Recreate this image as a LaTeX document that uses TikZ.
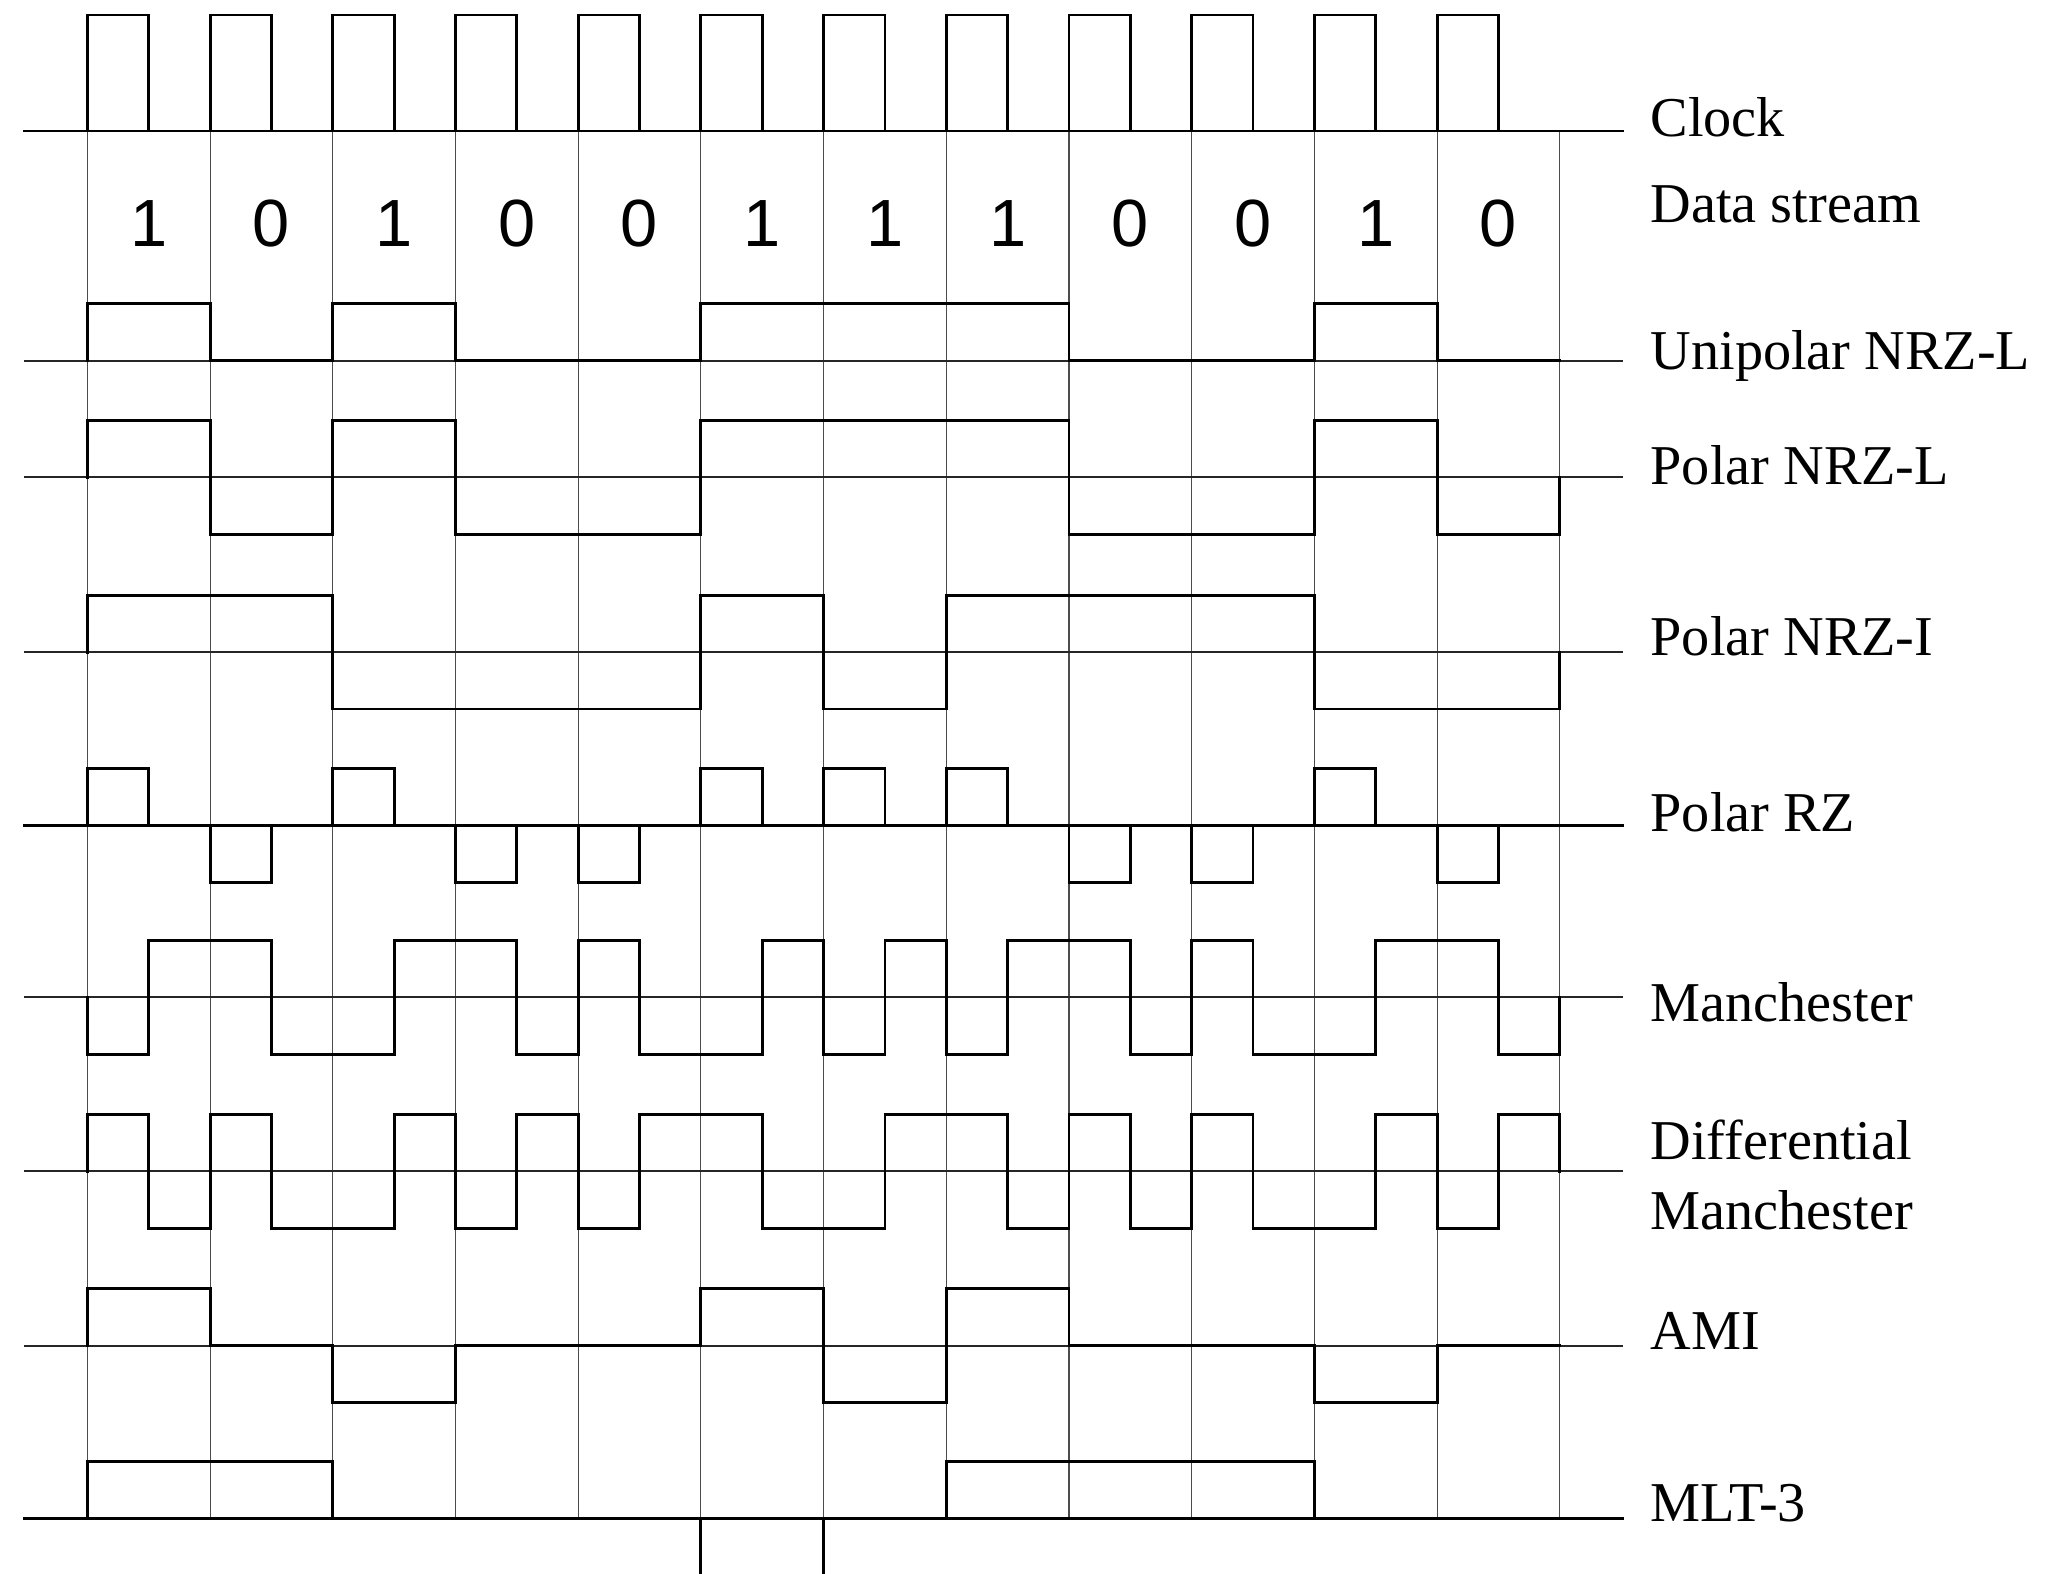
\documentclass[tikz,border=0pt]{standalone}
\usepackage{fontspec}
\setmainfont{Liberation Serif}
\newfontfamily\bitfont{Liberation Sans}
\usetikzlibrary{positioning}

\tikzset{
  gridline/.style={draw=black!70, line width=0.3pt},
  axisline/.style={draw=black!85, line width=0.55pt},
  wave/.style={draw=black, line width=0.8pt, line join=miter, line cap=rect},
  siglabel/.style={anchor=base west, inner sep=0pt, font=\fontsize{16}{19}\selectfont},
  bitnum/.style={anchor=base, inner sep=0pt, font=\bitfont\fontsize{19}{23}\selectfont}
}

% one line code: #1 = zero line, #2 = level of each half bit
\newcommand{\sigwave}[2]{%
  \foreach \v [count=\i from 0, remember=\v as \p (initially 0)] in {#2}{
    \draw[wave] (\i/2,#1-57*\p) -- (\i/2,#1-57*\v) -- (\i/2+0.5,#1-57*\v);
    \xdef\lastlev{\v}
  }
  \draw[wave] (12,#1-57*\lastlev) -- (12,#1);}

\begin{document}
\begin{tikzpicture}[x=1.227cm, y=-0.01cm]
  \useasboundingbox (-0.7123,0) rectangle (15.9544,1574);

  % bit cells
  \foreach \i in {0,...,12}
    \draw[gridline] (\i,131) -- (\i,1519);

  % zero lines
  \foreach \b in {361,477.5,652.5,998,1172,1346.5}
    \draw[axisline] (-0.517,\b) -- (12.515,\b);
  \foreach \b in {131,826,1519}
    \draw[wave] (-0.517,\b) -- (12.515,\b);

  % clock
  \foreach \i in {0,...,11}
    \draw[wave] (\i,131) -- (\i,15) -- (\i+0.5,15) -- (\i+0.5,131);

  % data bits
  \foreach \d [count=\i from 0] in {1,0,1,0,0,1,1,1,0,0,1,0}
    \node[bitnum] (bit\i) at (\i+0.5,246.5) {\d};

  % unipolar NRZ-L
  \sigwave{361}{1,1,0,0,1,1,0,0,0,0,1,1,1,1,1,1,0,0,0,0,1,1,0,0}
  % polar NRZ-L
  \sigwave{477.5}{1,1,-1,-1,1,1,-1,-1,-1,-1,1,1,1,1,1,1,-1,-1,-1,-1,1,1,-1,-1}
  % polar NRZ-I
  \sigwave{652.5}{1,1,1,1,-1,-1,-1,-1,-1,-1,1,1,-1,-1,1,1,1,1,1,1,-1,-1,-1,-1}
  % polar RZ
  \sigwave{826}{1,0,-1,0,1,0,-1,0,-1,0,1,0,1,0,1,0,-1,0,-1,0,1,0,-1,0}
  % manchester
  \sigwave{998}{-1,1,1,-1,-1,1,1,-1,1,-1,-1,1,-1,1,-1,1,1,-1,1,-1,-1,1,1,-1}
  % differential manchester
  \sigwave{1172}{1,-1,1,-1,-1,1,-1,1,-1,1,1,-1,-1,1,1,-1,1,-1,1,-1,-1,1,-1,1}
  % AMI
  \sigwave{1346.5}{1,1,0,0,-1,-1,0,0,0,0,1,1,-1,-1,1,1,0,0,0,0,-1,-1,0,0}
  % MLT-3
  \sigwave{1519}{1,1,1,1,0,0,0,0,0,0,-1,-1,0,0,1,1,1,1,1,1,0,0,0,0}

  % names
  \node[siglabel] (clk)   at (12.735,137)  {Clock};
  \node[siglabel] (data)  at (12.735,223)  {Data stream};
  \node[siglabel] (uni)   at (12.735,370)  {Unipolar NRZ-L};
  \node[siglabel] (nrzl)  at (12.735,485)  {Polar NRZ-L};
  \node[siglabel] (nrzi)  at (12.735,656)  {Polar NRZ-I};
  \node[siglabel] (rz)    at (12.735,832)  {Polar RZ};
  \node[siglabel] (man)   at (12.735,1022) {Manchester};
  \node[siglabel] (dman)  at (12.735,1160) {Differential};
  \node[siglabel] (dmanb) at (12.735,1230) {Manchester};
  \node[siglabel] (ami)   at (12.735,1350) {AMI};
  \node[siglabel] (mlt)   at (12.735,1522) {MLT-3};
\end{tikzpicture}
\end{document}
